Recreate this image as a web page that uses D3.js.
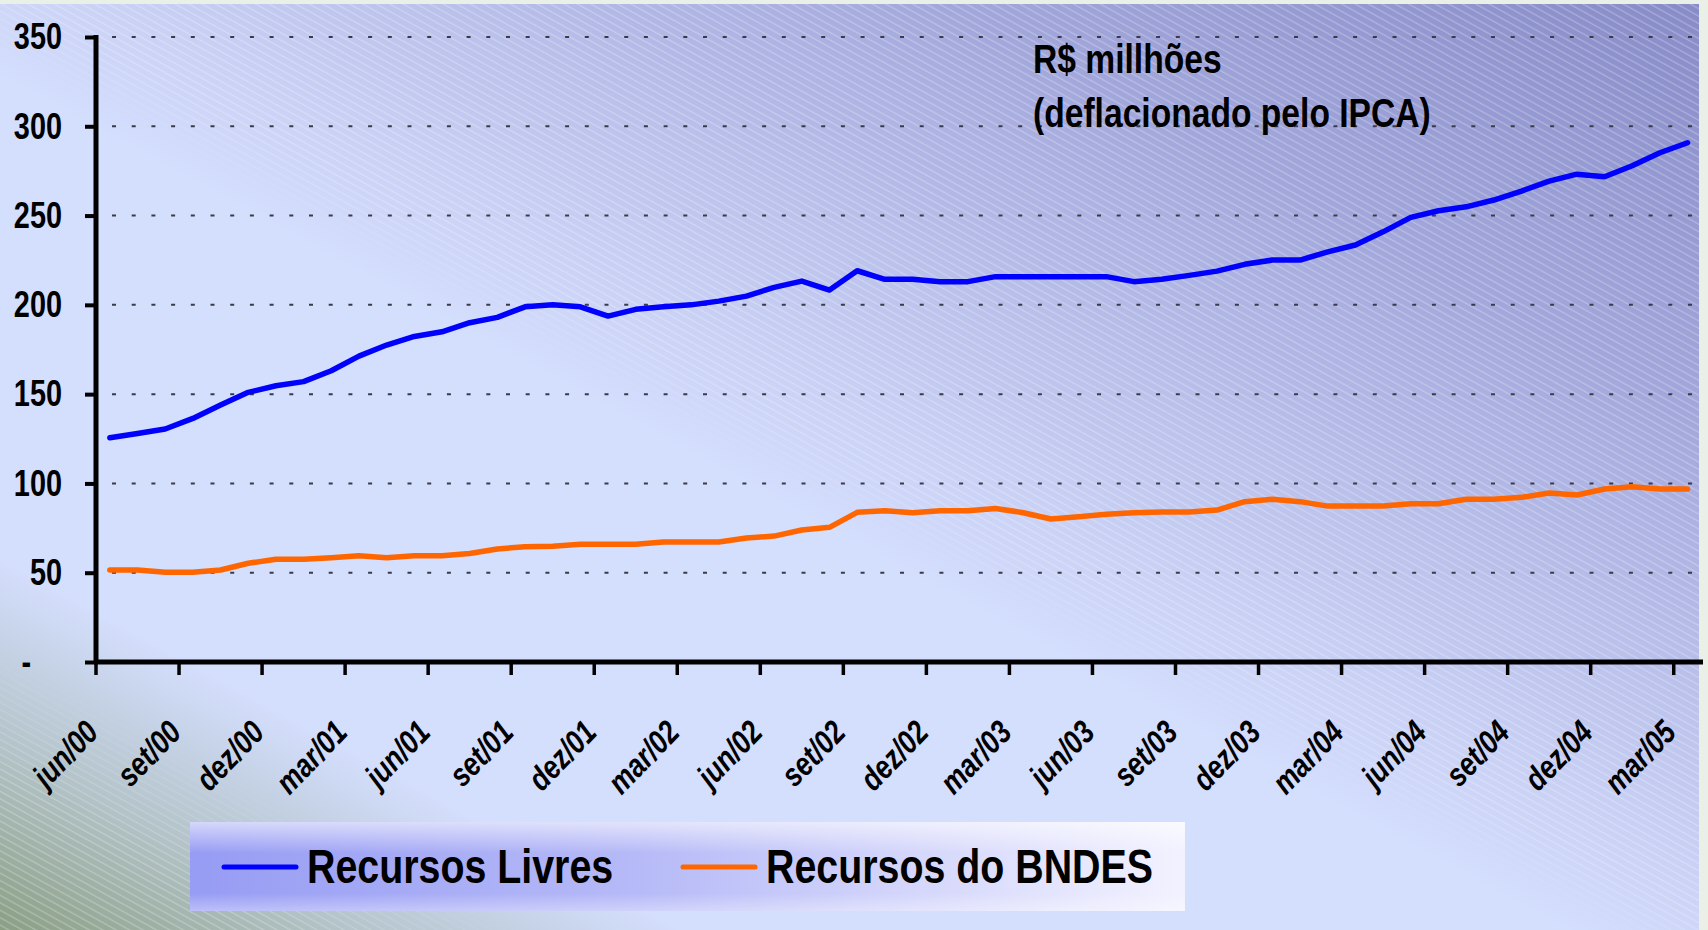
<!DOCTYPE html>
<html><head><meta charset="utf-8">
<script src="https://cdn.jsdelivr.net/npm/d3@7"></script>
<style>
html,body{margin:0;padding:0;background:#eaf0e8;}
svg{display:block;}
text{font-family:"Liberation Sans",Arial,sans-serif;font-weight:bold;fill:#000;}
</style></head><body><svg id="chart" width="1708" height="930"></svg>
<script>
const months = ["jun/00","jul/00","ago/00","set/00","out/00","nov/00","dez/00",
"jan/01","fev/01","mar/01","abr/01","mai/01","jun/01","jul/01","ago/01","set/01","out/01","nov/01","dez/01",
"jan/02","fev/02","mar/02","abr/02","mai/02","jun/02","jul/02","ago/02","set/02","out/02","nov/02","dez/02",
"jan/03","fev/03","mar/03","abr/03","mai/03","jun/03","jul/03","ago/03","set/03","out/03","nov/03","dez/03",
"jan/04","fev/04","mar/04","abr/04","mai/04","jun/04","jul/04","ago/04","set/04","out/04","nov/04","dez/04",
"jan/05","fev/05","mar/05"];
const recursosLivres = [125.6,128,130.5,136.4,143.9,151,154.7,157,163.1,171.3,177.5,182.3,184.9,190,193,198.9,200,198.9,193.7,197.5,
198.9,200,202.1,204.9,209.8,213.3,208.3,219.1,214.3,214.3,213,213,215.8,215.8,215.8,215.8,215.8,213,214.3,216.5,
218.9,222.7,225.1,225.1,229.7,233.5,240.9,249,252.7,254.9,258.7,263.7,269.3,273.2,271.7,277.9,285.2,290.8];
const recursosBNDES = [51.5,51.5,50.2,50.2,51.5,55.3,57.5,57.5,58.4,59.5,58.4,59.5,59.5,60.8,63.3,64.6,64.8,65.9,65.9,65.9,
67.2,67.2,67.2,69.4,70.5,73.9,75.4,83.8,84.7,83.6,84.7,84.7,86,83.6,80.1,81.4,82.7,83.6,84,84,
85.1,89.8,91.1,89.8,87.3,87.3,87.3,88.6,88.6,91.1,91.1,92.2,94.6,93.5,96.9,98.2,96.9,96.9];
const tickLabels = ["jun/00","set/00","dez/00","mar/01","jun/01","set/01","dez/01","mar/02","jun/02","set/02",
"dez/02","mar/03","jun/03","set/03","dez/03","mar/04","jun/04","set/04","dez/04","mar/05"];
const yTicks = [0,50,100,150,200,250,300,350];
const seriesNames = ["Recursos Livres","Recursos do BNDES"];
const seriesColors = ["#0000ff","#ff6600"];
const noteLines = ["R$ millhões","(deflacionado pelo IPCA)"];

const NARROW = 0.82;
const svg = d3.select("#chart");
const W = 1708, H = 930;
const defs = svg.append("defs");

// panel gradient
const pg = defs.append("linearGradient").attr("id","panelGrad")
  .attr("x1","100%").attr("y1","0%").attr("x2","0%").attr("y2","100%");
[[0,"#878cc8"],[0.22,"#a2a7db"],[0.48,"#cbd3f6"],[0.54,"#d4defd"],[0.8,"#d4defd"],[0.9,"#b3c3c8"],[1,"#8a9f84"]]
  .forEach(([o,c])=>pg.append("stop").attr("offset",o).attr("stop-color",c));
const hp = defs.append("pattern").attr("id","hatch").attr("patternUnits","userSpaceOnUse")
  .attr("width",12).attr("height",6.5).attr("patternTransform","rotate(29)");
hp.append("line").attr("x1",0).attr("x2",12).attr("y1",3).attr("y2",3)
  .attr("stroke","#ffffff").attr("stroke-width",0.9).attr("stroke-opacity",0.4);
const mg = defs.append("linearGradient").attr("id","maskGrad")
  .attr("x1","100%").attr("y1","0%").attr("x2","0%").attr("y2","100%");
[[0,"#fff"],[0.49,"#fff"],[0.53,"#000"],[0.84,"#000"],[0.92,"#fff"],[1,"#fff"]]
  .forEach(([o,c])=>mg.append("stop").attr("offset",o).attr("stop-color",c));
const mask = defs.append("mask").attr("id","hatchMask").attr("maskUnits","userSpaceOnUse")
  .attr("x",0).attr("y",0).attr("width",W).attr("height",H);
mask.append("rect").attr("x",0).attr("y",4).attr("width",1699).attr("height",926).attr("fill","url(#maskGrad)");

svg.append("rect").attr("width",W).attr("height",H).attr("fill","#eaf0e8");
svg.append("rect").attr("x",0).attr("y",4).attr("width",1699).attr("height",926).attr("fill","url(#panelGrad)");
svg.append("rect").attr("x",0).attr("y",4).attr("width",1699).attr("height",926).attr("fill","url(#hatch)").attr("mask","url(#hatchMask)");

// scales
const x = d3.scaleBand().domain(months).range([96,1701.4]).paddingInner(0).paddingOuter(0);
const y = d3.scaleLinear().domain([0,350]).range([662,37]);
const cx = m => x(m) + x.bandwidth()/2;

// gridlines
svg.append("g").selectAll("line").data(yTicks.filter(d=>d>0)).join("line")
  .attr("x1",112).attr("x2",1697).attr("y1",d=>y(d)).attr("y2",d=>y(d))
  .attr("stroke","#3a3a4a").attr("stroke-width",2).attr("stroke-dasharray","4,15.7");

// annotation
svg.append("g").selectAll("text").data(noteLines).join("text")
  .attr("transform",(d,i)=>`translate(1033,${73+i*54}) scale(${NARROW},1)`)
  .attr("font-size",41).text(d=>d);

// y axis
const yAxis = svg.append("g").attr("transform","translate(96,0)")
  .call(d3.axisLeft(y).tickValues(yTicks).tickSize(11).tickPadding(23).tickFormat(d=>d===0?"-":d));
yAxis.select(".domain").attr("stroke","#000").attr("stroke-width",5).attr("d","M0,35V662");
yAxis.selectAll(".tick line").attr("stroke","#000").attr("stroke-width",4);
yAxis.selectAll(".tick text").attr("font-size",37).attr("font-family",null).attr("fill","#000")
  .attr("transform",`scale(0.78,1)`).attr("x",-34/0.78)
  .attr("dx",d=>d===0?-31/0.78:0);

// x axis
const xg = svg.append("g");
xg.append("line").attr("x1",94).attr("x2",1703).attr("y1",662).attr("y2",662)
  .attr("stroke","#000").attr("stroke-width",5);
xg.selectAll("line.t").data(tickLabels).join("line").attr("class","t")
  .attr("x1",d=>x(d)).attr("x2",d=>x(d)).attr("y1",662).attr("y2",675)
  .attr("stroke","#000").attr("stroke-width",3.5);
xg.selectAll("text").data(tickLabels).join("text")
  .attr("transform",d=>`translate(${x(d)+4},734) rotate(-46) scale(${NARROW},1)`)
  .attr("text-anchor","end").attr("font-size",32.5).attr("font-style","italic").text(d=>d);

// lines
const line = d3.line().x((d,i)=>cx(months[i])).y(d=>y(d));
[recursosLivres, recursosBNDES].forEach((s,k)=>{
  svg.append("path").datum(s).attr("d",line).attr("fill","none")
    .attr("stroke",seriesColors[k]).attr("stroke-width",5.5)
    .attr("stroke-linejoin","round").attr("stroke-linecap","round");
});

// legend
const lg1 = defs.append("linearGradient").attr("id","legGrad").attr("x1","0%").attr("x2","100%").attr("y1","0%").attr("y2","0%");
[[0,"#979cf4"],[0.45,"#b6baf7"],[1,"#f2f2ff"]].forEach(([o,c])=>lg1.append("stop").attr("offset",o).attr("stop-color",c));
const lg2 = defs.append("linearGradient").attr("id","legGrad2").attr("x1","0%").attr("x2","0%").attr("y1","0%").attr("y2","100%");
[[0,"#ffffff",0.6],[0.35,"#ffffff",0],[0.8,"#ffffff",0],[1,"#ffffff",0.35]].forEach(([o,c,a])=>lg2.append("stop").attr("offset",o).attr("stop-color",c).attr("stop-opacity",a));
const leg = svg.append("g");
leg.append("rect").attr("x",190).attr("y",822).attr("width",995).attr("height",89).attr("fill","url(#legGrad)");
leg.append("rect").attr("x",190).attr("y",822).attr("width",995).attr("height",89).attr("fill","url(#legGrad2)");
const legX = [224,683];
seriesNames.forEach((n,k)=>{
  leg.append("line").attr("x1",legX[k]).attr("x2",legX[k]+72).attr("y1",867).attr("y2",867)
    .attr("stroke",seriesColors[k]).attr("stroke-width",5).attr("stroke-linecap","round");
  leg.append("text").attr("transform",`translate(${legX[k]+83},883) scale(${NARROW},1)`)
    .attr("font-size",48).text(n);
});
</script></body></html>
